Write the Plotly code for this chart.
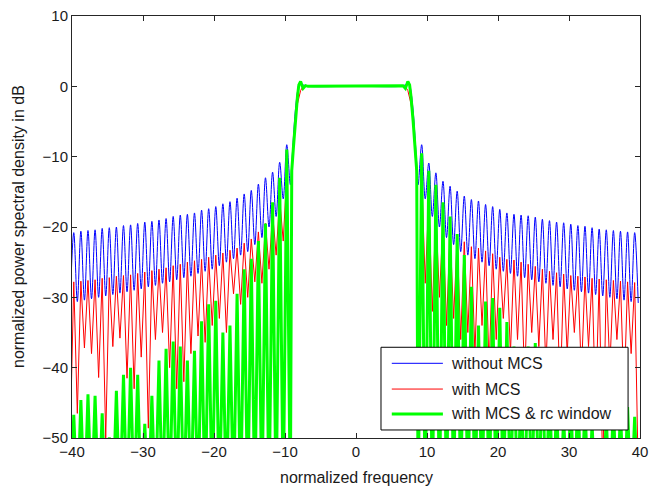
import plotly.graph_objects as go

# spectrum is symmetric about this frequency; distances d are measured from it
center = -0.25

# passband shape (distance from center -> dB)
pass_d = [0, 6.5, 6.85, 7.2, 7.55, 7.8, 8.0, 8.3, 8.55, 8.8]
pass_blue = [0, 0, 0.1, 0.2, 0.4, 0.2, -0.8, -3.5, -7.0, -11.0]
pass_red = [0, 0, 0, 0, -0.6, -1.5, -2.5, -5.0, -8.5, -13.0]
pass_green = [0, 0, 0.1, -0.3, 0.7, 0.2, -1.5, -5.0, -8.5, -12.0]

# sidelobes: peaks at d = 9.5 .. 39.5, nulls at d = 9 .. 40
peak_d = [k + 0.5 for k in range(9, 40)]
null_d = list(range(9, 41))

blue_peak_left = [-8.3, -10.8, -12.2, -13.0, -13.9, -14.8, -15.3, -15.9, -16.4, -16.7,
                  -17.1, -17.4, -17.6, -18.0, -18.2, -18.3, -18.5, -18.8, -19.0, -19.2,
                  -19.3, -19.5, -19.7, -19.8, -20.0, -20.1, -20.2, -20.4, -20.5, -20.6, -20.8]
blue_peak_right = [-8.3, -10.9, -12.3, -13.5, -14.2, -14.9, -15.6, -16.1, -16.3, -16.8,
                   -17.1, -17.5, -18.0, -18.2, -18.3, -18.4, -18.6, -18.9, -19.1, -19.3,
                   -19.4, -19.6, -19.8, -19.9, -20.1, -20.3, -20.4, -20.5, -20.6, -20.7, -20.8]
blue_null = [-14.0, -16.0, -18.5, -20.0, -21.5, -22.5, -23.5, -24.0, -24.5, -25.0,
             -25.5, -26.0, -26.3, -26.6, -27.0, -27.2, -27.5, -27.8, -28.0, -28.3,
             -28.5, -28.8, -29.0, -29.2, -29.4, -29.6, -29.8, -30.0, -30.2, -30.4, -30.6, -30.8]

red_peak_left = [-12.5, -16.0, -18.0, -19.5, -20.7, -21.7, -22.3, -23.0, -23.3, -23.7,
                 -24.0, -24.3, -24.6, -24.8, -25.0, -25.3, -25.5, -25.8, -26.0, -26.2,
                 -26.4, -26.6, -26.8, -26.9, -27.0, -27.2, -27.3, -27.5, -27.6, -27.7, -27.8]
red_peak_right = [-12.7, -16.1, -18.0, -19.3, -20.7, -21.6, -22.1, -22.8, -23.0, -23.4,
                  -23.8, -24.3, -24.6, -24.7, -25.0, -25.3, -25.6, -26.0, -26.3, -26.5,
                  -26.7, -26.9, -27.0, -27.1, -27.3, -27.4, -27.5, -27.6, -27.7, -27.8, -27.9]
red_null_left = [-50.0, -22.0, -24.0, -26.0, -28.0, -27.8, -30.0, -31.0, -29.5, -35.0,
                 -33.0, -34.0, -36.4, -35.5, -38.0, -42.0, -43.0, -40.0, -35.0, -36.0,
                 -48.6, -38.5, -43.0, -41.5, -35.8, -37.0, -50.0, -41.4, -38.0, -37.2, -46.5, -50.0]
red_null_right = [-50.0, -28.0, -32.0, -30.0, -34.0, -33.0, -36.0, -35.0, -38.0, -34.0,
                  -40.0, -36.0, -33.0, -38.0, -36.0, -42.0, -35.0, -37.0, -40.0, -36.0,
                  -44.0, -38.0, -35.0, -41.0, -37.0, -46.0, -55.0, -40.0, -36.0, -44.0, -38.0, -55.0]

green_peak_left = [-9.0, -13.0, -16.5, -19.5, -22.0, -24.5, -26.0, -29.5, -34.0, -35.0,
                   -30.5, -31.0, -33.4, -37.6, -39.0, -37.0, -36.3, -37.3, -39.0, -44.0,
                   -48.0, -41.0, -40.0, -41.0, -43.3, -49.9, -46.5, -44.0, -43.8, -44.6, -46.7]
green_peak_right = [-9.5, -12.0, -14.0, -16.5, -18.5, -21.0, -24.0, -28.5, -34.0, -30.6,
                    -30.1, -31.5, -33.5, -37.0, -42.0, -37.0, -36.5, -38.5, -42.0, -45.0,
                    -47.0, -44.0, -43.0, -45.0, -48.0, -50.0, -47.0, -45.0, -46.0, -45.6, -47.0]
green_null = [-60.0] * 32

names = ["without MCS", "with MCS", "with MCS & rc window"]
colors = ["#0000ff", "#ff0000", "#00ff00"]
widths = [1, 1, 3]
shapes = ["spline", "linear", "linear"]


def one_side(pass_vals, peaks, nulls):
    pts = list(zip(pass_d, pass_vals)) + list(zip(peak_d, peaks)) + list(zip(null_d, nulls))
    return sorted(pts)


def spectrum(pass_vals, peaks_left, peaks_right, nulls_left, nulls_right):
    left = one_side(pass_vals, peaks_left, nulls_left)
    right = one_side(pass_vals, peaks_right, nulls_right)
    xs = [center - d for d, _ in reversed(left)] + [center + d for d, _ in right[1:]]
    ys = [v for _, v in reversed(left)] + [v for _, v in right[1:]]
    return xs, ys


curves = [
    spectrum(pass_blue, blue_peak_left, blue_peak_right, blue_null, blue_null),
    spectrum(pass_red, red_peak_left, red_peak_right, red_null_left, red_null_right),
    spectrum(pass_green, green_peak_left, green_peak_right, green_null, green_null),
]

fig = go.Figure()
for name, color, width, shape, (xs, ys) in zip(names, colors, widths, shapes, curves):
    fig.add_trace(go.Scatter(x=xs, y=ys, mode="lines", name=name, showlegend=False,
                             line=dict(color=color, width=width, shape=shape)))

axis_style = dict(showgrid=False, zeroline=False, showline=True, linecolor="#262626",
                  linewidth=1, mirror="allticks", ticks="inside", ticklen=5,
                  tickcolor="#262626", automargin=False, ticklabeloverflow="allow",
                  tickfont=dict(size=15, color="#1a1a1a"))

fig.update_xaxes(range=[-40, 40], tickvals=[-40, -30, -20, -10, 0, 10, 20, 30, 40], **axis_style)
fig.update_yaxes(range=[-50, 10], tickvals=[-50, -40, -30, -20, -10, 0, 10], **axis_style)

# axis titles
fig.add_annotation(text="normalized frequency", x=0.5, y=0, xref="paper", yref="paper",
                   xanchor="center", yanchor="top", yshift=-29, showarrow=False,
                   font=dict(size=16, color="#1a1a1a"))
fig.add_annotation(text="normalized power spectral density in dB", x=0, y=0.5,
                   xref="paper", yref="paper", textangle=-90, xanchor="center",
                   yanchor="middle", xshift=-54, showarrow=False,
                   font=dict(size=16, color="#1a1a1a"))

# legend box drawn by hand (MATLAB style, long line samples)
fig.add_shape(type="rect", xref="paper", yref="paper", x0=0.544, x1=0.979, y0=0.019, y1=0.215,
              fillcolor="white", line=dict(color="#000000", width=1), layer="above")
legend_y = [0.177, 0.116, 0.057]
for name, color, width, ly in zip(names, colors, widths, legend_y):
    fig.add_shape(type="line", xref="paper", yref="paper", x0=0.563, x1=0.653, y0=ly, y1=ly,
                  line=dict(color=color, width=width), layer="above")
    fig.add_annotation(text=name, x=0.664, y=ly, xref="paper", yref="paper",
                       xanchor="left", yanchor="middle", showarrow=False,
                       font=dict(size=16, color="#1a1a1a"))

# page body adds an 8px offset, margins compensate for it
fig.update_layout(
    width=667, height=490,
    margin=dict(l=64, r=35, t=8, b=60),
    paper_bgcolor="white", plot_bgcolor="white",
    font=dict(family="Liberation Sans, Arial, sans-serif", color="#1a1a1a"),
    showlegend=False,
)

fig.write_html("out.html")
